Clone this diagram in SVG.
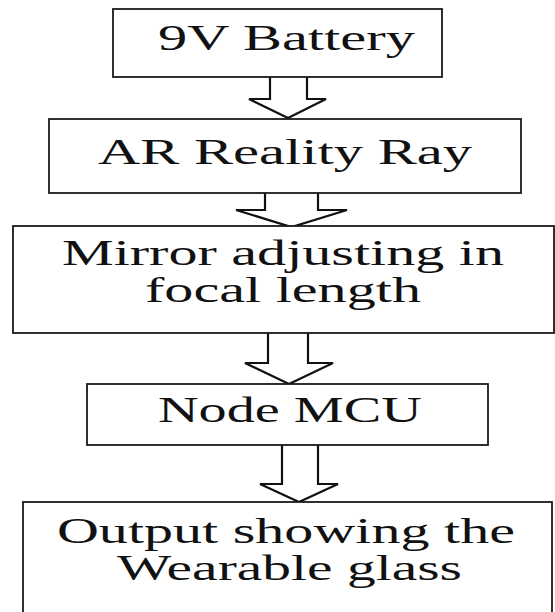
<svg xmlns="http://www.w3.org/2000/svg" width="555" height="612" viewBox="0 0 555 612">
<style>
.box{fill:#fff;stroke:#1a1a1a;stroke-width:1.8}
.arr{fill:#fff;stroke:#111;stroke-width:2.2;stroke-linejoin:miter}
.t{font-family:"Liberation Serif","Times New Roman",serif;font-size:36px;fill:#111}
</style>
<rect width="555" height="612" fill="#fff"/>
<g id="connectors">
<path class="arr" d="M270,77 L270,99 L249,99 L288,118 L326,99 L307,99 L307,77"/>
<path class="arr" d="M265,193 L265,210 L236,210 L291.5,227 L347,210 L318,210 L318,193"/>
<path class="arr" d="M268,333 L268,363 L245,363 L289,384 L333,363 L308,363 L308,333"/>
<path class="arr" d="M282,445 L282,484 L260,484 L299,502 L338,484 L318,484 L318,445"/>
</g>
<g id="battery">
<rect class="box" x="113" y="9" width="329" height="68"/>
<text class="t" transform="scale(1.6,1)" x="98.75" y="50" textLength="160.6" lengthAdjust="spacingAndGlyphs">9V Battery</text>
</g>
<g id="ar-ray">
<rect class="box" x="49" y="119" width="472" height="74"/>
<text class="t" transform="scale(1.6,1)" x="61.25" y="164" textLength="233.75" lengthAdjust="spacingAndGlyphs">AR Reality Ray</text>
</g>
<g id="mirror">
<rect class="box" x="13" y="226" width="541" height="107"/>
<text class="t" transform="scale(1.6,1)" x="38.75" y="265" textLength="276.25" lengthAdjust="spacingAndGlyphs">Mirror adjusting in</text>
<text class="t" transform="scale(1.6,1)" x="90.6" y="302" textLength="172.5" lengthAdjust="spacingAndGlyphs">focal length</text>
</g>
<g id="nodemcu">
<rect class="box" x="87" y="384" width="401" height="61"/>
<text class="t" transform="scale(1.6,1)" x="98.75" y="422" textLength="165" lengthAdjust="spacingAndGlyphs">Node MCU</text>
</g>
<g id="output">
<rect class="box" x="23" y="502" width="529" height="130"/>
<text class="t" transform="scale(1.6,1)" x="35.6" y="543" textLength="286.25" lengthAdjust="spacingAndGlyphs">Output showing the</text>
<text class="t" transform="scale(1.6,1)" x="73.1" y="580" textLength="215.6" lengthAdjust="spacingAndGlyphs">Wearable glass</text>
</g>
</svg>
